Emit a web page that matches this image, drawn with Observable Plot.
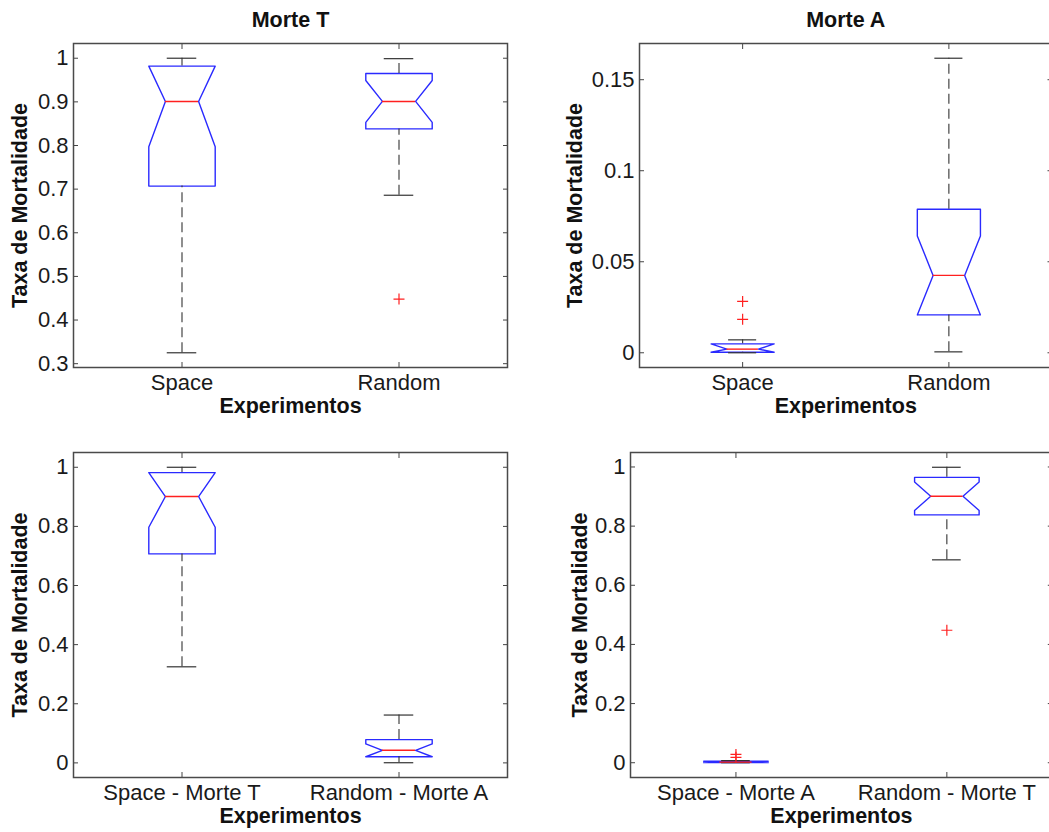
<!DOCTYPE html>
<html><head><meta charset="utf-8">
<script src="https://cdn.jsdelivr.net/npm/d3@7"></script>
<script src="https://cdn.jsdelivr.net/npm/@observablehq/plot@0.6"></script>
<style>
body{margin:0;background:#fff;}
#fig{position:relative;width:1049px;height:832px;overflow:hidden;background:#fff;}
#fig svg{position:absolute;}
</style></head><body><div id="fig"></div>
<script>
// Box statistics: [lowWhisker, q1, notchLow, median, notchHigh, q3, highWhisker]
const spaceMorteT  = [0.325, 0.707, 0.797, 0.901, 0.982, 0.982, 1.000];
const randomMorteT = [0.686, 0.838, 0.853, 0.901, 0.949, 0.965, 0.999];
const spaceMorteA  = [0.0000, 0.0003, 0.0003, 0.0020, 0.0049, 0.0049, 0.0071];
const randomMorteA = [0.0005, 0.0208, 0.0208, 0.0425, 0.0642, 0.0788, 0.1618];
// Outliers
const outSpaceMorteT  = [];
const outRandomMorteT = [0.448];
const outSpaceMorteA  = [0.0184, 0.0282];
const outRandomMorteA = [];

// Texts
const titles = ["Morte T", "Morte A", "", ""];
const categories1 = ["Space", "Random"];
const categories2 = ["Space", "Random"];
const categories3 = ["Space - Morte T", "Random - Morte A"];
const categories4 = ["Space - Morte A", "Random - Morte T"];
const yTicks1 = [0.3, 0.4, 0.5, 0.6, 0.7, 0.8, 0.9, 1];
const yTicks2 = [0, 0.05, 0.1, 0.15];
const yTicks34 = [0, 0.2, 0.4, 0.6, 0.8, 1];
const xLabel = "Experimentos";
const yLabel = "Taxa de Mortalidade";

const FONT = "'Liberation Sans', Arial, Helvetica, sans-serif";
const TICK_FS = 22, BOLD_FS = 21.5;
const W = 0.153;   // box half width (x units)
const CAP = 0.068; // whisker cap half width

const plusSymbol = {
  draw(ctx, size) {
    const r = Math.sqrt(size / Math.PI);
    ctx.moveTo(-r, 0); ctx.lineTo(r, 0);
    ctx.moveTo(0, -r); ctx.lineTo(0, r);
  }
};

function panel(cfg) {
  const groups = cfg.stats.map((s, i) => ({
    pos: i + 1, lw: s[0], q1: s[1], nl: s[2], md: s[3], nh: s[4], q3: s[5], hw: s[6]
  }));
  const poly = groups.flatMap(g => [
    [g.pos - W, g.q1], [g.pos - W, g.nl], [g.pos - W / 2, g.md], [g.pos - W, g.nh], [g.pos - W, g.q3],
    [g.pos + W, g.q3], [g.pos + W, g.nh], [g.pos + W / 2, g.md], [g.pos + W, g.nl], [g.pos + W, g.q1],
    [g.pos - W, g.q1]
  ].map(([x, y]) => ({x, y, g: g.pos})));
  const outs = cfg.outliers.flatMap((arr, i) => arr.map(v => ({x: i + 1, y: v})));
  const all = groups.flatMap(g => [g.lw, g.hw]).concat(outs.map(o => o.y));
  const lo = d3.min(all), hi = d3.max(all), pad = (hi - lo) * 0.05;

  const marks = [
    Plot.line(poly, {x: "x", y: "y", z: "g", stroke: "#2a2aff", strokeWidth: 1.4}),
    Plot.ruleX(groups, {x: "pos", y1: "q3", y2: "hw", stroke: "#333", strokeWidth: 1.1, strokeDasharray: "10,5"}),
    Plot.ruleX(groups, {x: "pos", y1: "lw", y2: "q1", stroke: "#333", strokeWidth: 1.1, strokeDasharray: "10,5"}),
    Plot.ruleY(groups, {y: "hw", x1: d => d.pos - CAP, x2: d => d.pos + CAP, stroke: "#333", strokeWidth: 1.2}),
    Plot.ruleY(groups, {y: "lw", x1: d => d.pos - CAP, x2: d => d.pos + CAP, stroke: "#333", strokeWidth: 1.2}),
    Plot.ruleY(groups, {y: "md", x1: d => d.pos - W / 2, x2: d => d.pos + W / 2, stroke: "#ff2020", strokeWidth: 1.4}),
    Plot.dot(outs, {x: "x", y: "y", symbol: plusSymbol, r: 5.5, stroke: "#ff2020", fill: "none", strokeWidth: 1.2}),
    Plot.axisY(cfg.yTicks, {anchor: "left", tickSize: -5, fill: "none", stroke: "#444", label: null}),
    Plot.axisY(cfg.yTicks, {anchor: "right", tickSize: -5, fill: "none", stroke: "#444", label: null}),
    Plot.axisX([1, 2], {anchor: "bottom", tickSize: -5, fill: "none", stroke: "#444", label: null}),
    Plot.axisX([1, 2], {anchor: "top", tickSize: -5, fill: "none", stroke: "#444", label: null}),
    Plot.frame({stroke: "#4a4a4a", strokeWidth: 1.5}),
    Plot.text(cfg.yTicks, {y: d => d, text: d => String(d), frameAnchor: "left", dx: -5, textAnchor: "end", lineAnchor: "middle", fontSize: TICK_FS, fill: "#1a1a1a"}),
    Plot.text(cfg.cats, {x: (d, i) => i + 1, text: d => d, frameAnchor: "bottom", dy: 22, lineAnchor: "bottom", fontSize: TICK_FS, fill: "#1a1a1a"}),
    Plot.text([xLabel], {text: d => d, frameAnchor: "bottom", dy: 45.5, lineAnchor: "bottom", fontSize: BOLD_FS, fontWeight: "bold", fill: "#111"}),
    Plot.text([yLabel], {text: d => d, frameAnchor: "left", dx: cfg.yLabelDx, rotate: -90, lineAnchor: "middle", textAnchor: "middle", fontSize: BOLD_FS, fontWeight: "bold", fill: "#111"})
  ];
  if (cfg.title) marks.push(Plot.text([cfg.title], {text: d => d, frameAnchor: "top", dy: -17, lineAnchor: "bottom", fontSize: BOLD_FS, fontWeight: "bold", fill: "#111"}));

  const svg = Plot.plot({
    width: cfg.width, height: cfg.height,
    marginLeft: cfg.ml, marginRight: cfg.mr, marginTop: cfg.mt, marginBottom: cfg.mb,
    x: {domain: [0.5, 2.5]},
    y: {domain: [lo - pad, hi + pad]},
    style: {fontFamily: FONT, fontSize: "20px", color: "#1a1a1a", background: "transparent", overflow: "visible"},
    marks
  });
  svg.style.left = cfg.left + "px";
  svg.style.top = cfg.top + "px";
  document.getElementById("fig").appendChild(svg);
}

panel({stats: [spaceMorteT, randomMorteT], outliers: [outSpaceMorteT, outRandomMorteT], cats: categories1, yTicks: yTicks1, title: titles[0],
  left: 0, top: 0, width: 520, height: 420, ml: 73, mr: 13, mt: 43, mb: 53, yLabelDx: -53});
panel({stats: [spaceMorteA, randomMorteA], outliers: [outSpaceMorteA, outRandomMorteA], cats: categories2, yTicks: yTicks2, title: titles[1],
  left: 520, top: 0, width: 545, height: 420, ml: 119, mr: 13.5, mt: 43, mb: 53, yLabelDx: -64});
panel({stats: [spaceMorteT, randomMorteA], outliers: [outSpaceMorteT, outRandomMorteA], cats: categories3, yTicks: yTicks34, title: titles[2],
  left: 0, top: 420, width: 520, height: 412, ml: 73, mr: 13, mt: 32, mb: 55, yLabelDx: -53});
panel({stats: [spaceMorteA, randomMorteT], outliers: [outSpaceMorteA, outRandomMorteT], cats: categories4, yTicks: yTicks34, title: titles[3],
  left: 520, top: 420, width: 545, height: 412, ml: 110, mr: 13.2, mt: 32, mb: 55, yLabelDx: -50});
</script>
</body></html>
